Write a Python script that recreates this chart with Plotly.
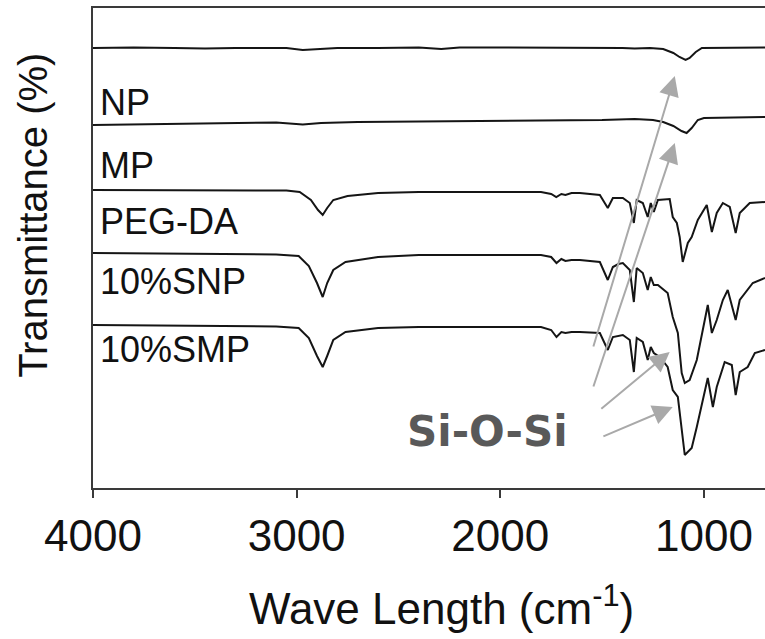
import plotly.graph_objects as go

# ---------------- data ----------------
# wavenumber (cm-1) and relative transmittance (stacked, arbitrary units)
np_wn = [4000, 3800, 3600, 3450, 3300, 3050, 2970, 2880, 2800, 2600, 2400, 2290, 2200, 2000,
         1800, 1600, 1400, 1340, 1265, 1200, 1150, 1120, 1090, 1070, 1040, 1010, 950, 900, 800, 700]
np_t = [440, 440.5, 440, 439.5, 440, 440, 438, 439, 440, 440, 440.5, 439, 440.5, 440.5,
        440.5, 440.5, 440, 439.5, 440, 439, 435, 431, 428, 430, 436, 440, 440, 440.5, 440, 440.5]

mp_wn = [4000, 3700, 3400, 3100, 2970, 2880, 2700, 2400, 2000, 1700, 1500, 1340, 1250, 1200,
         1150, 1110, 1085, 1060, 1030, 1000, 900, 800, 700]
mp_t = [363, 364, 365, 365.5, 363.5, 365, 366, 366.5, 367, 367.5, 368, 369, 368, 366,
        362, 357, 355, 360, 368, 370, 370.5, 371, 371]

peg_wn = [4000, 3600, 3200, 3050, 2985, 2930, 2895, 2872, 2850, 2820, 2750, 2600, 2400, 2000,
          1800, 1750, 1725, 1700, 1680, 1650, 1609, 1511, 1472, 1447, 1398, 1364, 1344, 1330,
          1300, 1276, 1261, 1246, 1226, 1168, 1153, 1133, 1119, 1104, 1079, 1060, 1030, 986,
          961, 937, 907, 873, 844, 824, 775, 700]
peg_t = [298, 298, 298, 297.5, 296, 288, 278, 273, 280, 288, 292, 295, 296, 296,
         296, 294, 291, 294, 293, 295, 295, 293, 280, 290, 290, 285, 265, 288,
         285, 271, 285, 276, 288, 289, 271, 265, 251, 226, 245, 251, 268, 283,
         256, 275, 285, 281, 255, 275, 285, 286]

snp_wn = [4000, 3700, 3400, 3100, 2990, 2940, 2900, 2872, 2850, 2820, 2760, 2600, 2400, 2000,
          1800, 1750, 1724, 1700, 1680, 1650, 1609, 1511, 1472, 1447, 1420, 1398, 1364, 1344,
          1330, 1300, 1276, 1261, 1246, 1226, 1178, 1153, 1128, 1109, 1094, 1070, 1035, 981,
          961, 937, 907, 883, 844, 824, 760, 700]
snp_t = [235, 234.5, 234, 233.5, 232, 222, 205, 191, 205, 218, 226, 231, 233, 233,
         233, 231, 225, 229, 227, 228, 228, 226, 208, 221, 224, 225, 218, 186,
         220, 215, 198, 211, 203, 203, 195, 171, 155, 115, 105, 108, 128, 183,
         155, 168, 188, 198, 168, 188, 205, 210]

smp_wn = [4000, 3700, 3400, 3100, 2990, 2940, 2900, 2872, 2850, 2820, 2760, 2600, 2400, 2000,
          1800, 1750, 1724, 1700, 1680, 1650, 1609, 1511, 1472, 1447, 1398, 1364, 1344, 1330,
          1300, 1276, 1261, 1246, 1217, 1178, 1153, 1128, 1109, 1094, 1060, 1035, 981, 956,
          937, 898, 863, 844, 824, 785, 750, 700]
smp_t = [163, 162.5, 162, 161.5, 160, 150, 132, 121, 132, 148, 156, 160, 161, 161,
         161, 158, 151, 156, 155, 156, 156, 155, 138, 151, 153, 148, 116, 150,
         146, 128, 141, 135, 131, 121, 98, 91, 61, 33, 40, 61, 110, 81,
         101, 126, 123, 93, 116, 121, 135, 138]

series_names = ["NP", "MP", "PEG-DA", "10%SNP", "10%SMP"]
series_wn = [np_wn, mp_wn, peg_wn, snp_wn, smp_wn]
series_t = [np_t, mp_t, peg_t, snp_t, smp_t]
label_t = [386, 323, 267, 207, 139]       # vertical positions of the series labels

tick_vals = [4000, 3000, 2000, 1000]
tick_text = ["4000", "3000", "2000", "1000"]

# Si-O-Si arrows: (tail wn, tail t, head wn, head t)
arrows = [
    (1545, 140, 1143, 412),
    (1545, 100, 1143, 345),
    (1511, 78, 1168, 136),
    (1501, 51, 1153, 81),
]

# ---------------- figure ----------------
fig = go.Figure()
for name, wn, t in zip(series_names, series_wn, series_t):
    fig.add_trace(go.Scatter(x=wn, y=t, mode="lines", name=name,
                             line=dict(color="#151515", width=2), showlegend=False))

font_main = "Arial, Liberation Sans, sans-serif"

for name, yt in zip(series_names, label_t):
    fig.add_annotation(x=3975, y=yt, xref="x", yref="y", text=name, showarrow=False,
                       xanchor="left", yanchor="middle",
                       font=dict(family=font_main, size=36, color="#111111"))

for tx, ty, hx, hy in arrows:
    fig.add_annotation(x=hx, y=hy, ax=tx, ay=ty, xref="x", yref="y", axref="x", ayref="y",
                       text="", showarrow=True, arrowhead=2, arrowsize=2, arrowwidth=2,
                       arrowcolor="#a9a9a9", standoff=0)

fig.add_annotation(x=2061, y=57, xref="x", yref="y", text="<b>Si-O-Si</b>", showarrow=False,
                   xanchor="center", yanchor="middle",
                   font=dict(family="DejaVu Sans, Verdana, sans-serif", size=42, color="#595959"))

fig.add_annotation(x=-0.0893, y=0.569, xref="paper", yref="paper", text="Transmittance (%)",
                   textangle=-90, showarrow=False, xanchor="center", yanchor="middle",
                   font=dict(family=font_main, size=40, color="#111111"))

fig.add_annotation(x=0.518, y=-0.245, xref="paper", yref="paper",
                   text="Wave Length (cm<sup>-1</sup>)", showarrow=False,
                   xanchor="center", yanchor="middle",
                   font=dict(family=font_main, size=44, color="#111111"))

fig.update_xaxes(range=[4000, 700], showline=True, linecolor="#3a3a3a", linewidth=2,
                 mirror=True, showgrid=False, zeroline=False, automargin=False,
                 tickvals=tick_vals, ticktext=tick_text, ticks="outside", ticklen=8,
                 tickwidth=1.5, tickcolor="#3a3a3a",
                 tickfont=dict(family=font_main, size=44, color="#111111"))
fig.update_yaxes(range=[0, 480], showline=True, linecolor="#3a3a3a", linewidth=2,
                 showgrid=False, zeroline=False, showticklabels=False, ticks="",
                 automargin=False)

fig.update_layout(width=765, height=639, margin=dict(l=93, r=0, t=8, b=151),
                  plot_bgcolor="white", paper_bgcolor="white")

fig.write_html("out.html", config={"displayModeBar": False},
               post_script="document.body.style.margin='0';document.body.style.overflow='hidden';")
